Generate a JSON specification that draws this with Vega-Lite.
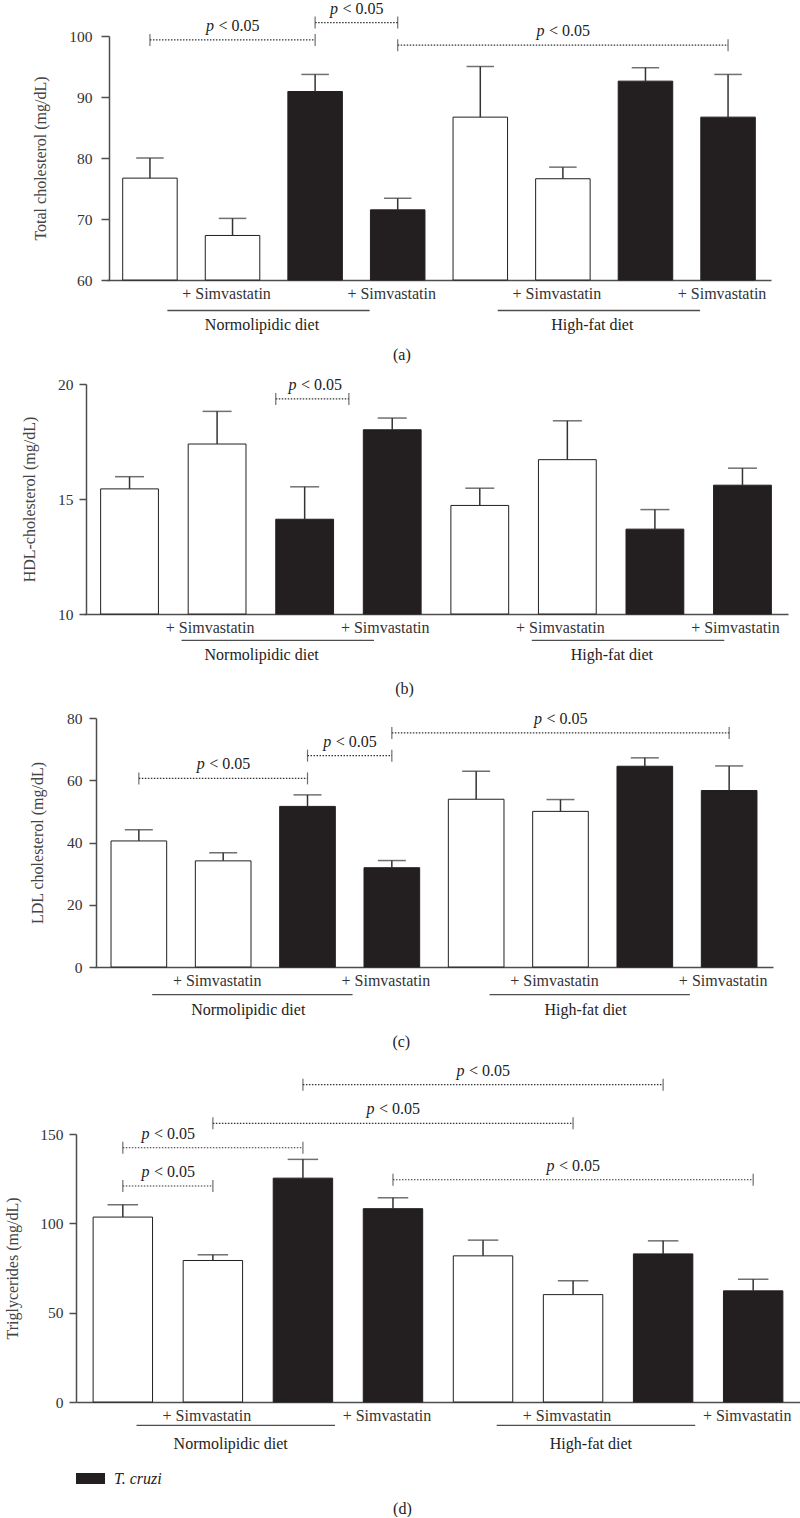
{
  "$schema": "https://vega.github.io/schema/vega-lite/v6.json",
  "padding": {"left": 4, "top": 0, "right": 0, "bottom": 0},
  "background": "white",
  "config": {
    "font": "Liberation Serif, Times New Roman, serif",
    "view": {"stroke": null},
    "axis": {"domainColor": "#4d4d4d", "domainWidth": 1.5, "tickColor": "#4d4d4d", "tickWidth": 1.5, "labelColor": "#333333", "labelFontSize": 15.5, "titleColor": "#444444", "titleFontSize": 16, "titleFontWeight": "normal", "grid": false, "labelFont": "Liberation Serif, Times New Roman, serif", "titleFont": "Liberation Serif, Times New Roman, serif"},
    "legend": {"labelFont": "Liberation Serif, Times New Roman, serif"},
    "title": {"fontSize": 16, "fontWeight": "normal", "color": "#222222", "font": "Liberation Serif, Times New Roman, serif"},
    "text": {"font": "Liberation Serif, Times New Roman, serif", "fontSize": 16, "color": "#222222"}
  },
  "datasets": {
    "bars": [
      {"panel": "a", "g": "NL", "group": "Uninfected", "mean": 76.7, "upper": 80.0},
      {"panel": "a", "g": "NL+S", "group": "Uninfected", "mean": 67.3, "upper": 70.1},
      {"panel": "a", "g": "NL-Tc", "group": "T. cruzi", "mean": 90.9, "upper": 93.7},
      {"panel": "a", "g": "NL-Tc+S", "group": "T. cruzi", "mean": 71.5, "upper": 73.4},
      {"panel": "a", "g": "HF", "group": "Uninfected", "mean": 86.7, "upper": 95.0},
      {"panel": "a", "g": "HF+S", "group": "Uninfected", "mean": 76.6, "upper": 78.5},
      {"panel": "a", "g": "HF-Tc", "group": "T. cruzi", "mean": 92.6, "upper": 94.8},
      {"panel": "a", "g": "HF-Tc+S", "group": "T. cruzi", "mean": 86.7, "upper": 93.7},
      {"panel": "b", "g": "NL", "group": "Uninfected", "mean": 15.44, "upper": 15.97},
      {"panel": "b", "g": "NL+S", "group": "Uninfected", "mean": 17.39, "upper": 18.81},
      {"panel": "b", "g": "NL-Tc", "group": "T. cruzi", "mean": 14.12, "upper": 15.53},
      {"panel": "b", "g": "NL-Tc+S", "group": "T. cruzi", "mean": 18.01, "upper": 18.52},
      {"panel": "b", "g": "HF", "group": "Uninfected", "mean": 14.72, "upper": 15.47},
      {"panel": "b", "g": "HF+S", "group": "Uninfected", "mean": 16.71, "upper": 18.40},
      {"panel": "b", "g": "HF-Tc", "group": "T. cruzi", "mean": 13.69, "upper": 14.54},
      {"panel": "b", "g": "HF-Tc+S", "group": "T. cruzi", "mean": 15.60, "upper": 16.34},
      {"panel": "c", "g": "NL", "group": "Uninfected", "mean": 40.5, "upper": 44.1},
      {"panel": "c", "g": "NL+S", "group": "Uninfected", "mean": 34.1, "upper": 36.7},
      {"panel": "c", "g": "NL-Tc", "group": "T. cruzi", "mean": 51.6, "upper": 55.3},
      {"panel": "c", "g": "NL-Tc+S", "group": "T. cruzi", "mean": 31.9, "upper": 34.2},
      {"panel": "c", "g": "HF", "group": "Uninfected", "mean": 53.9, "upper": 62.9},
      {"panel": "c", "g": "HF+S", "group": "Uninfected", "mean": 50.0, "upper": 53.8},
      {"panel": "c", "g": "HF-Tc", "group": "T. cruzi", "mean": 64.5, "upper": 67.2},
      {"panel": "c", "g": "HF-Tc+S", "group": "T. cruzi", "mean": 56.7, "upper": 64.6},
      {"panel": "d", "g": "NL", "group": "Uninfected", "mean": 103.5, "upper": 110.4},
      {"panel": "d", "g": "NL+S", "group": "Uninfected", "mean": 79.2, "upper": 82.4},
      {"panel": "d", "g": "NL-Tc", "group": "T. cruzi", "mean": 125.3, "upper": 135.8},
      {"panel": "d", "g": "NL-Tc+S", "group": "T. cruzi", "mean": 108.2, "upper": 114.3},
      {"panel": "d", "g": "HF", "group": "Uninfected", "mean": 81.8, "upper": 90.6},
      {"panel": "d", "g": "HF+S", "group": "Uninfected", "mean": 60.1, "upper": 67.8},
      {"panel": "d", "g": "HF-Tc", "group": "T. cruzi", "mean": 82.9, "upper": 90.2},
      {"panel": "d", "g": "HF-Tc+S", "group": "T. cruzi", "mean": 62.2, "upper": 68.7}
    ],
    "sig": [
      {"panel": "a", "from": "NL", "to": "NL-Tc", "level": 99.35, "at": "NL+S", "mid": "bar"},
      {"panel": "a", "from": "NL-Tc", "to": "NL-Tc+S", "level": 102.2, "at": "NL-Tc", "mid": "gap"},
      {"panel": "a", "from": "NL-Tc+S", "to": "HF-Tc+S", "level": 98.5, "at": "HF+S", "mid": "bar"},
      {"panel": "b", "from": "NL-Tc", "to": "NL-Tc+S", "level": 19.35, "at": "NL-Tc", "mid": "gap"},
      {"panel": "c", "from": "NL", "to": "NL-Tc", "level": 60.6, "at": "NL+S", "mid": "bar"},
      {"panel": "c", "from": "NL-Tc", "to": "NL-Tc+S", "level": 67.9, "at": "NL-Tc", "mid": "gap"},
      {"panel": "c", "from": "NL-Tc+S", "to": "HF-Tc+S", "level": 75.2, "at": "HF+S", "mid": "bar"},
      {"panel": "d", "from": "NL", "to": "NL+S", "level": 120.9, "at": "NL", "mid": "gap"},
      {"panel": "d", "from": "NL", "to": "NL-Tc", "level": 142.3, "at": "NL", "mid": "gap"},
      {"panel": "d", "from": "NL+S", "to": "HF+S", "level": 156.0, "at": "NL-Tc+S", "mid": "bar"},
      {"panel": "d", "from": "NL-Tc", "to": "HF-Tc", "level": 177.6, "at": "HF", "mid": "bar"},
      {"panel": "d", "from": "NL-Tc+S", "to": "HF-Tc+S", "level": 124.4, "at": "HF+S", "mid": "bar"}
    ],
    "groups": [
      {"diet": "Normolipidic diet", "from": "NL", "to": "NL-Tc", "at": "NL+S"},
      {"diet": "High-fat diet", "from": "HF", "to": "HF-Tc", "at": "HF+S"}
    ]
  },
  "concat": [
    {
      "width": 695, "height": 244,
      "title": {"text": "(a)", "orient": "bottom", "frame": "bounds", "anchor": "middle", "offset": 14},
      "layer": [
        {"data": {"name": "bars"}, "transform": [{"filter": "datum.panel === 'a'"}],
         "mark": {"type": "bar", "stroke": "#231f20", "strokeWidth": 1},
         "encoding": {
           "x": {"field": "g", "type": "nominal", "scale": {"type": "band", "domain": ["NL","NL+S","NL-Tc","NL-Tc+S","HF","HF+S","HF-Tc","HF-Tc+S"], "range": [31, 695], "paddingInner": 0.34, "paddingOuter": 0.19},
                 "axis": {"title": null, "ticks": false, "labelPadding": 5, "labelAngle": 0, "labelOverlap": false, "labelFontSize": 16, "labelOffset": -6, "labelExpr": "indexof(datum.value, '+S') >= 0 ? '+ Simvastatin' : ''"}},
           "y": {"field": "mean", "type": "quantitative", "scale": {"domain": [60, 100]}, "axis": {"title": "Total cholesterol (mg/dL)", "values": [60, 70, 80, 90, 100], "offset": -33, "tickSize": 8, "labelPadding": 9, "titlePadding": 20}},
           "y2": {"datum": 60},
           "fill": {"field": "group", "type": "nominal", "scale": {"domain": ["Uninfected", "T. cruzi"], "range": ["#ffffff", "#231f20"]}, "legend": null}
         }},
        {"data": {"name": "bars"}, "transform": [{"filter": "datum.panel === 'a'"}],
         "mark": {"type": "rule", "color": "#333333", "strokeWidth": 1.5},
         "encoding": {
           "x": {"field": "g", "type": "nominal", "title": null, "scale": {"type": "band", "domain": ["NL","NL+S","NL-Tc","NL-Tc+S","HF","HF+S","HF-Tc","HF-Tc+S"]}},
           "y": {"field": "mean", "type": "quantitative", "scale": {"domain": [60, 100]}},
           "y2": {"field": "upper"}
         }},
        {"data": {"name": "bars"}, "transform": [{"filter": "datum.panel === 'a'"}],
         "mark": {"type": "tick", "orient": "horizontal", "color": "#333333", "thickness": 1.5, "size": 27.5},
         "encoding": {
           "x": {"field": "g", "type": "nominal", "title": null, "scale": {"type": "band", "domain": ["NL","NL+S","NL-Tc","NL-Tc+S","HF","HF+S","HF-Tc","HF-Tc+S"]}},
           "y": {"field": "upper", "type": "quantitative", "scale": {"domain": [60, 100]}}
         }},
        {"data": {"name": "sig"}, "transform": [{"filter": "datum.panel === 'a'"}],
         "mark": {"type": "rule", "color": "#333333", "strokeWidth": 1.2, "strokeDash": [1.5, 1.5]},
         "encoding": {
           "x": {"field": "from", "type": "nominal", "title": null, "scale": {"type": "band", "domain": ["NL","NL+S","NL-Tc","NL-Tc+S","HF","HF+S","HF-Tc","HF-Tc+S"]}},
           "x2": {"field": "to"},
           "y": {"field": "level", "type": "quantitative", "scale": {"domain": [60, 100]}}
         }},
        {"data": {"name": "sig"}, "transform": [{"filter": "datum.panel === 'a'"}],
         "mark": {"type": "tick", "orient": "vertical", "color": "#333333", "thickness": 1.2, "size": 12},
         "encoding": {
           "x": {"field": "from", "type": "nominal", "title": null, "scale": {"type": "band", "domain": ["NL","NL+S","NL-Tc","NL-Tc+S","HF","HF+S","HF-Tc","HF-Tc+S"]}},
           "y": {"field": "level", "type": "quantitative", "scale": {"domain": [60, 100]}}
         }},
        {"data": {"name": "sig"}, "transform": [{"filter": "datum.panel === 'a'"}],
         "mark": {"type": "tick", "orient": "vertical", "color": "#333333", "thickness": 1.2, "size": 12},
         "encoding": {
           "x": {"field": "to", "type": "nominal", "title": null, "scale": {"type": "band", "domain": ["NL","NL+S","NL-Tc","NL-Tc+S","HF","HF+S","HF-Tc","HF-Tc+S"]}},
           "y": {"field": "level", "type": "quantitative", "scale": {"domain": [60, 100]}}
         }},
        {"data": {"name": "sig"}, "transform": [{"filter": "datum.panel === 'a' && datum.mid === 'bar'"}],
         "mark": {"type": "text", "text": "p", "fontStyle": "italic", "align": "left", "baseline": "alphabetic", "dx": -26.5, "dy": -9},
         "encoding": {
           "x": {"field": "at", "type": "nominal", "title": null, "scale": {"type": "band", "domain": ["NL","NL+S","NL-Tc","NL-Tc+S","HF","HF+S","HF-Tc","HF-Tc+S"]}},
           "y": {"field": "level", "type": "quantitative", "scale": {"domain": [60, 100]}}
         }},
        {"data": {"name": "sig"}, "transform": [{"filter": "datum.panel === 'a' && datum.mid === 'bar'"}],
         "mark": {"type": "text", "text": "< 0.05", "align": "left", "baseline": "alphabetic", "dx": -14, "dy": -9},
         "encoding": {
           "x": {"field": "at", "type": "nominal", "title": null, "scale": {"type": "band", "domain": ["NL","NL+S","NL-Tc","NL-Tc+S","HF","HF+S","HF-Tc","HF-Tc+S"]}},
           "y": {"field": "level", "type": "quantitative", "scale": {"domain": [60, 100]}}
         }},
        {"data": {"name": "sig"}, "transform": [{"filter": "datum.panel === 'a' && datum.mid === 'gap'"}],
         "mark": {"type": "text", "text": "p", "fontStyle": "italic", "align": "left", "baseline": "alphabetic", "dx": -26.5, "dy": -9},
         "encoding": {
           "x": {"field": "at", "type": "nominal", "title": null, "bandPosition": 1.26, "scale": {"type": "band", "domain": ["NL","NL+S","NL-Tc","NL-Tc+S","HF","HF+S","HF-Tc","HF-Tc+S"]}},
           "y": {"field": "level", "type": "quantitative", "scale": {"domain": [60, 100]}}
         }},
        {"data": {"name": "sig"}, "transform": [{"filter": "datum.panel === 'a' && datum.mid === 'gap'"}],
         "mark": {"type": "text", "text": "< 0.05", "align": "left", "baseline": "alphabetic", "dx": -14, "dy": -9},
         "encoding": {
           "x": {"field": "at", "type": "nominal", "title": null, "bandPosition": 1.26, "scale": {"type": "band", "domain": ["NL","NL+S","NL-Tc","NL-Tc+S","HF","HF+S","HF-Tc","HF-Tc+S"]}},
           "y": {"field": "level", "type": "quantitative", "scale": {"domain": [60, 100]}}
         }},
        {"data": {"name": "groups"},
         "mark": {"type": "rule", "color": "#4d4d4d", "strokeWidth": 1.3},
         "encoding": {
           "x": {"field": "from", "type": "nominal", "title": null, "bandPosition": 0.82, "scale": {"type": "band", "domain": ["NL","NL+S","NL-Tc","NL-Tc+S","HF","HF+S","HF-Tc","HF-Tc+S"]}},
           "x2": {"field": "to", "bandPosition": 1.5},
           "y": {"datum": 55.0, "scale": {"domain": [60, 100]}}
         }},
        {"data": {"name": "groups"},
         "mark": {"type": "text", "align": "center", "baseline": "alphabetic"},
         "encoding": {
           "x": {"field": "at", "type": "nominal", "title": null, "bandPosition": 1.04, "scale": {"type": "band", "domain": ["NL","NL+S","NL-Tc","NL-Tc+S","HF","HF+S","HF-Tc","HF-Tc+S"]}},
           "y": {"datum": 51.77, "scale": {"domain": [60, 100]}},
           "text": {"field": "diet"}
         }}
      ]
    },
    {
      "width": 712, "height": 230,
      "title": {"text": "(b)", "orient": "bottom", "frame": "bounds", "anchor": "middle", "offset": 18},
      "layer": [
        {"data": {"name": "bars"}, "transform": [{"filter": "datum.panel === 'b'"}],
         "mark": {"type": "bar", "stroke": "#231f20", "strokeWidth": 1},
         "encoding": {
           "x": {"field": "g", "type": "nominal", "scale": {"type": "band", "domain": ["NL","NL+S","NL-Tc","NL-Tc+S","HF","HF+S","HF-Tc","HF-Tc+S"], "range": [8, 712], "paddingInner": 0.34, "paddingOuter": 0.19},
                 "axis": {"title": null, "ticks": false, "labelPadding": 5, "labelAngle": 0, "labelOverlap": false, "labelFontSize": 16, "labelOffset": -7, "labelExpr": "indexof(datum.value, '+S') >= 0 ? '+ Simvastatin' : ''"}},
           "y": {"field": "mean", "type": "quantitative", "scale": {"domain": [10, 20]}, "axis": {"title": "HDL-cholesterol (mg/dL)", "values": [10, 15, 20], "offset": -10, "tickSize": 7, "labelPadding": 6, "titlePadding": 20.5}},
           "y2": {"datum": 10},
           "fill": {"field": "group", "type": "nominal", "scale": {"domain": ["Uninfected", "T. cruzi"], "range": ["#ffffff", "#231f20"]}, "legend": null}
         }},
        {"data": {"name": "bars"}, "transform": [{"filter": "datum.panel === 'b'"}],
         "mark": {"type": "rule", "color": "#333333", "strokeWidth": 1.5},
         "encoding": {
           "x": {"field": "g", "type": "nominal", "title": null, "scale": {"type": "band", "domain": ["NL","NL+S","NL-Tc","NL-Tc+S","HF","HF+S","HF-Tc","HF-Tc+S"]}},
           "y": {"field": "mean", "type": "quantitative", "scale": {"domain": [10, 20]}},
           "y2": {"field": "upper"}
         }},
        {"data": {"name": "bars"}, "transform": [{"filter": "datum.panel === 'b'"}],
         "mark": {"type": "tick", "orient": "horizontal", "color": "#333333", "thickness": 1.5, "size": 29},
         "encoding": {
           "x": {"field": "g", "type": "nominal", "title": null, "scale": {"type": "band", "domain": ["NL","NL+S","NL-Tc","NL-Tc+S","HF","HF+S","HF-Tc","HF-Tc+S"]}},
           "y": {"field": "upper", "type": "quantitative", "scale": {"domain": [10, 20]}}
         }},
        {"data": {"name": "sig"}, "transform": [{"filter": "datum.panel === 'b'"}],
         "mark": {"type": "rule", "color": "#333333", "strokeWidth": 1.2, "strokeDash": [1.5, 1.5]},
         "encoding": {
           "x": {"field": "from", "type": "nominal", "title": null, "bandPosition": 0, "scale": {"type": "band", "domain": ["NL","NL+S","NL-Tc","NL-Tc+S","HF","HF+S","HF-Tc","HF-Tc+S"]}},
           "x2": {"field": "to", "bandPosition": -0.25},
           "y": {"field": "level", "type": "quantitative", "scale": {"domain": [10, 20]}}
         }},
        {"data": {"name": "sig"}, "transform": [{"filter": "datum.panel === 'b'"}],
         "mark": {"type": "tick", "orient": "vertical", "color": "#333333", "thickness": 1.2, "size": 12},
         "encoding": {
           "x": {"field": "from", "type": "nominal", "title": null, "bandPosition": 0, "scale": {"type": "band", "domain": ["NL","NL+S","NL-Tc","NL-Tc+S","HF","HF+S","HF-Tc","HF-Tc+S"]}},
           "y": {"field": "level", "type": "quantitative", "scale": {"domain": [10, 20]}}
         }},
        {"data": {"name": "sig"}, "transform": [{"filter": "datum.panel === 'b'"}],
         "mark": {"type": "tick", "orient": "vertical", "color": "#333333", "thickness": 1.2, "size": 12},
         "encoding": {
           "x": {"field": "to", "type": "nominal", "title": null, "bandPosition": -0.25, "scale": {"type": "band", "domain": ["NL","NL+S","NL-Tc","NL-Tc+S","HF","HF+S","HF-Tc","HF-Tc+S"]}},
           "y": {"field": "level", "type": "quantitative", "scale": {"domain": [10, 20]}}
         }},
        {"data": {"name": "sig"}, "transform": [{"filter": "datum.panel === 'b'"}],
         "mark": {"type": "text", "text": "p", "fontStyle": "italic", "align": "left", "baseline": "alphabetic", "dx": -26.5, "dy": -9},
         "encoding": {
           "x": {"field": "at", "type": "nominal", "title": null, "bandPosition": 0.68, "scale": {"type": "band", "domain": ["NL","NL+S","NL-Tc","NL-Tc+S","HF","HF+S","HF-Tc","HF-Tc+S"]}},
           "y": {"field": "level", "type": "quantitative", "scale": {"domain": [10, 20]}}
         }},
        {"data": {"name": "sig"}, "transform": [{"filter": "datum.panel === 'b'"}],
         "mark": {"type": "text", "text": "< 0.05", "align": "left", "baseline": "alphabetic", "dx": -14, "dy": -9},
         "encoding": {
           "x": {"field": "at", "type": "nominal", "title": null, "bandPosition": 0.68, "scale": {"type": "band", "domain": ["NL","NL+S","NL-Tc","NL-Tc+S","HF","HF+S","HF-Tc","HF-Tc+S"]}},
           "y": {"field": "level", "type": "quantitative", "scale": {"domain": [10, 20]}}
         }},
        {"data": {"name": "groups"},
         "mark": {"type": "rule", "color": "#4d4d4d", "strokeWidth": 1.3},
         "encoding": {
           "x": {"field": "from", "type": "nominal", "title": null, "bandPosition": 1.4, "scale": {"type": "band", "domain": ["NL","NL+S","NL-Tc","NL-Tc+S","HF","HF+S","HF-Tc","HF-Tc+S"]}},
           "x2": {"field": "to", "bandPosition": 1.7},
           "y": {"datum": 8.854, "scale": {"domain": [10, 20]}}
         }},
        {"data": {"name": "groups"},
         "mark": {"type": "text", "align": "center", "baseline": "alphabetic"},
         "encoding": {
           "x": {"field": "at", "type": "nominal", "title": null, "bandPosition": 1.27, "scale": {"type": "band", "domain": ["NL","NL+S","NL-Tc","NL-Tc+S","HF","HF+S","HF-Tc","HF-Tc+S"]}},
           "y": {"datum": 7.985, "scale": {"domain": [10, 20]}},
           "text": {"field": "diet"}
         }}
      ]
    },
    {
      "width": 697, "height": 249,
      "title": {"text": "(c)", "orient": "bottom", "frame": "bounds", "anchor": "middle", "offset": 16},
      "layer": [
        {"data": {"name": "bars"}, "transform": [{"filter": "datum.panel === 'c'"}],
         "mark": {"type": "bar", "stroke": "#231f20", "strokeWidth": 1},
         "encoding": {
           "x": {"field": "g", "type": "nominal", "scale": {"type": "band", "domain": ["NL","NL+S","NL-Tc","NL-Tc+S","HF","HF+S","HF-Tc","HF-Tc+S"], "range": [19, 697], "paddingInner": 0.34, "paddingOuter": 0.19},
                 "axis": {"title": null, "ticks": false, "labelPadding": 5, "labelAngle": 0, "labelOverlap": false, "labelFontSize": 16, "labelOffset": -6, "labelExpr": "indexof(datum.value, '+S') >= 0 ? '+ Simvastatin' : ''"}},
           "y": {"field": "mean", "type": "quantitative", "scale": {"domain": [0, 80]}, "axis": {"title": "LDL cholesterol (mg/dL)", "values": [0, 20, 40, 60, 80], "offset": -20, "tickSize": 7, "labelPadding": 7, "titlePadding": 21}},
           "y2": {"datum": 0},
           "fill": {"field": "group", "type": "nominal", "scale": {"domain": ["Uninfected", "T. cruzi"], "range": ["#ffffff", "#231f20"]}, "legend": null}
         }},
        {"data": {"name": "bars"}, "transform": [{"filter": "datum.panel === 'c'"}],
         "mark": {"type": "rule", "color": "#333333", "strokeWidth": 1.5},
         "encoding": {
           "x": {"field": "g", "type": "nominal", "title": null, "scale": {"type": "band", "domain": ["NL","NL+S","NL-Tc","NL-Tc+S","HF","HF+S","HF-Tc","HF-Tc+S"]}},
           "y": {"field": "mean", "type": "quantitative", "scale": {"domain": [0, 80]}},
           "y2": {"field": "upper"}
         }},
        {"data": {"name": "bars"}, "transform": [{"filter": "datum.panel === 'c'"}],
         "mark": {"type": "tick", "orient": "horizontal", "color": "#333333", "thickness": 1.5, "size": 28},
         "encoding": {
           "x": {"field": "g", "type": "nominal", "title": null, "scale": {"type": "band", "domain": ["NL","NL+S","NL-Tc","NL-Tc+S","HF","HF+S","HF-Tc","HF-Tc+S"]}},
           "y": {"field": "upper", "type": "quantitative", "scale": {"domain": [0, 80]}}
         }},
        {"data": {"name": "sig"}, "transform": [{"filter": "datum.panel === 'c'"}],
         "mark": {"type": "rule", "color": "#333333", "strokeWidth": 1.2, "strokeDash": [1.5, 1.5]},
         "encoding": {
           "x": {"field": "from", "type": "nominal", "title": null, "scale": {"type": "band", "domain": ["NL","NL+S","NL-Tc","NL-Tc+S","HF","HF+S","HF-Tc","HF-Tc+S"]}},
           "x2": {"field": "to"},
           "y": {"field": "level", "type": "quantitative", "scale": {"domain": [0, 80]}}
         }},
        {"data": {"name": "sig"}, "transform": [{"filter": "datum.panel === 'c'"}],
         "mark": {"type": "tick", "orient": "vertical", "color": "#333333", "thickness": 1.2, "size": 12},
         "encoding": {
           "x": {"field": "from", "type": "nominal", "title": null, "scale": {"type": "band", "domain": ["NL","NL+S","NL-Tc","NL-Tc+S","HF","HF+S","HF-Tc","HF-Tc+S"]}},
           "y": {"field": "level", "type": "quantitative", "scale": {"domain": [0, 80]}}
         }},
        {"data": {"name": "sig"}, "transform": [{"filter": "datum.panel === 'c'"}],
         "mark": {"type": "tick", "orient": "vertical", "color": "#333333", "thickness": 1.2, "size": 12},
         "encoding": {
           "x": {"field": "to", "type": "nominal", "title": null, "scale": {"type": "band", "domain": ["NL","NL+S","NL-Tc","NL-Tc+S","HF","HF+S","HF-Tc","HF-Tc+S"]}},
           "y": {"field": "level", "type": "quantitative", "scale": {"domain": [0, 80]}}
         }},
        {"data": {"name": "sig"}, "transform": [{"filter": "datum.panel === 'c' && datum.mid === 'bar'"}],
         "mark": {"type": "text", "text": "p", "fontStyle": "italic", "align": "left", "baseline": "alphabetic", "dx": -26.5, "dy": -9},
         "encoding": {
           "x": {"field": "at", "type": "nominal", "title": null, "scale": {"type": "band", "domain": ["NL","NL+S","NL-Tc","NL-Tc+S","HF","HF+S","HF-Tc","HF-Tc+S"]}},
           "y": {"field": "level", "type": "quantitative", "scale": {"domain": [0, 80]}}
         }},
        {"data": {"name": "sig"}, "transform": [{"filter": "datum.panel === 'c' && datum.mid === 'bar'"}],
         "mark": {"type": "text", "text": "< 0.05", "align": "left", "baseline": "alphabetic", "dx": -14, "dy": -9},
         "encoding": {
           "x": {"field": "at", "type": "nominal", "title": null, "scale": {"type": "band", "domain": ["NL","NL+S","NL-Tc","NL-Tc+S","HF","HF+S","HF-Tc","HF-Tc+S"]}},
           "y": {"field": "level", "type": "quantitative", "scale": {"domain": [0, 80]}}
         }},
        {"data": {"name": "sig"}, "transform": [{"filter": "datum.panel === 'c' && datum.mid === 'gap'"}],
         "mark": {"type": "text", "text": "p", "fontStyle": "italic", "align": "left", "baseline": "alphabetic", "dx": -26.5, "dy": -9},
         "encoding": {
           "x": {"field": "at", "type": "nominal", "title": null, "bandPosition": 1.26, "scale": {"type": "band", "domain": ["NL","NL+S","NL-Tc","NL-Tc+S","HF","HF+S","HF-Tc","HF-Tc+S"]}},
           "y": {"field": "level", "type": "quantitative", "scale": {"domain": [0, 80]}}
         }},
        {"data": {"name": "sig"}, "transform": [{"filter": "datum.panel === 'c' && datum.mid === 'gap'"}],
         "mark": {"type": "text", "text": "< 0.05", "align": "left", "baseline": "alphabetic", "dx": -14, "dy": -9},
         "encoding": {
           "x": {"field": "at", "type": "nominal", "title": null, "bandPosition": 1.26, "scale": {"type": "band", "domain": ["NL","NL+S","NL-Tc","NL-Tc+S","HF","HF+S","HF-Tc","HF-Tc+S"]}},
           "y": {"field": "level", "type": "quantitative", "scale": {"domain": [0, 80]}}
         }},
        {"data": {"name": "groups"},
         "mark": {"type": "rule", "color": "#4d4d4d", "strokeWidth": 1.3},
         "encoding": {
           "x": {"field": "from", "type": "nominal", "title": null, "bandPosition": 0.74, "scale": {"type": "band", "domain": ["NL","NL+S","NL-Tc","NL-Tc+S","HF","HF+S","HF-Tc","HF-Tc+S"]}},
           "x2": {"field": "to", "bandPosition": 1.31},
           "y": {"datum": -8.9, "scale": {"domain": [0, 80]}}
         }},
        {"data": {"name": "groups"},
         "mark": {"type": "text", "align": "center", "baseline": "alphabetic"},
         "encoding": {
           "x": {"field": "at", "type": "nominal", "title": null, "bandPosition": 0.95, "scale": {"type": "band", "domain": ["NL","NL+S","NL-Tc","NL-Tc+S","HF","HF+S","HF-Tc","HF-Tc+S"]}},
           "y": {"datum": -15.33, "scale": {"domain": [0, 80]}},
           "text": {"field": "diet"}
         }}
      ]
    },
    {
      "width": 724, "height": 268,
      "title": {"text": "(d)", "orient": "bottom", "frame": "bounds", "anchor": "middle", "offset": 14},
      "layer": [
        {"data": {"name": "bars"}, "transform": [{"filter": "datum.panel === 'd'"}],
         "mark": {"type": "bar", "stroke": "#231f20", "strokeWidth": 1},
         "encoding": {
           "x": {"field": "g", "type": "nominal", "scale": {"type": "band", "domain": ["NL","NL+S","NL-Tc","NL-Tc+S","HF","HF+S","HF-Tc","HF-Tc+S"], "range": [0, 724], "paddingInner": 0.34, "paddingOuter": 0.19},
                 "axis": {"title": null, "ticks": false, "labelPadding": 5, "labelAngle": 0, "labelOverlap": false, "labelFontSize": 16, "labelOffset": -6, "labelExpr": "indexof(datum.value, '+S') >= 0 ? '+ Simvastatin' : ''"}},
           "y": {"field": "mean", "type": "quantitative", "scale": {"domain": [0, 150]}, "axis": {"title": "Triglycerides (mg/dL)", "values": [0, 50, 100, 150], "tickSize": 7, "labelPadding": 6, "titlePadding": 19}},
           "y2": {"datum": 0},
           "fill": {"field": "group", "type": "nominal", "scale": {"domain": ["Uninfected", "T. cruzi"], "range": ["#ffffff", "#231f20"]},
                    "legend": {"values": ["T. cruzi"], "orient": "bottom", "title": null, "symbolType": "M-1,-0.38H1V0.38H-1Z", "symbolSize": 841, "symbolStrokeWidth": 0, "labelFontStyle": "italic", "labelFontSize": 16, "labelColor": "#222222", "labelOffset": 9, "offset": 41}}
         }},
        {"data": {"name": "bars"}, "transform": [{"filter": "datum.panel === 'd'"}],
         "mark": {"type": "rule", "color": "#333333", "strokeWidth": 1.5},
         "encoding": {
           "x": {"field": "g", "type": "nominal", "title": null, "scale": {"type": "band", "domain": ["NL","NL+S","NL-Tc","NL-Tc+S","HF","HF+S","HF-Tc","HF-Tc+S"]}},
           "y": {"field": "mean", "type": "quantitative", "scale": {"domain": [0, 150]}},
           "y2": {"field": "upper"}
         }},
        {"data": {"name": "bars"}, "transform": [{"filter": "datum.panel === 'd'"}],
         "mark": {"type": "tick", "orient": "horizontal", "color": "#333333", "thickness": 1.5, "size": 30.5},
         "encoding": {
           "x": {"field": "g", "type": "nominal", "title": null, "scale": {"type": "band", "domain": ["NL","NL+S","NL-Tc","NL-Tc+S","HF","HF+S","HF-Tc","HF-Tc+S"]}},
           "y": {"field": "upper", "type": "quantitative", "scale": {"domain": [0, 150]}}
         }},
        {"data": {"name": "sig"}, "transform": [{"filter": "datum.panel === 'd'"}],
         "mark": {"type": "rule", "color": "#333333", "strokeWidth": 1.2, "strokeDash": [1.5, 1.5]},
         "encoding": {
           "x": {"field": "from", "type": "nominal", "title": null, "scale": {"type": "band", "domain": ["NL","NL+S","NL-Tc","NL-Tc+S","HF","HF+S","HF-Tc","HF-Tc+S"]}},
           "x2": {"field": "to"},
           "y": {"field": "level", "type": "quantitative", "scale": {"domain": [0, 150]}}
         }},
        {"data": {"name": "sig"}, "transform": [{"filter": "datum.panel === 'd'"}],
         "mark": {"type": "tick", "orient": "vertical", "color": "#333333", "thickness": 1.2, "size": 12},
         "encoding": {
           "x": {"field": "from", "type": "nominal", "title": null, "scale": {"type": "band", "domain": ["NL","NL+S","NL-Tc","NL-Tc+S","HF","HF+S","HF-Tc","HF-Tc+S"]}},
           "y": {"field": "level", "type": "quantitative", "scale": {"domain": [0, 150]}}
         }},
        {"data": {"name": "sig"}, "transform": [{"filter": "datum.panel === 'd'"}],
         "mark": {"type": "tick", "orient": "vertical", "color": "#333333", "thickness": 1.2, "size": 12},
         "encoding": {
           "x": {"field": "to", "type": "nominal", "title": null, "scale": {"type": "band", "domain": ["NL","NL+S","NL-Tc","NL-Tc+S","HF","HF+S","HF-Tc","HF-Tc+S"]}},
           "y": {"field": "level", "type": "quantitative", "scale": {"domain": [0, 150]}}
         }},
        {"data": {"name": "sig"}, "transform": [{"filter": "datum.panel === 'd' && datum.mid === 'bar'"}],
         "mark": {"type": "text", "text": "p", "fontStyle": "italic", "align": "left", "baseline": "alphabetic", "dx": -26.5, "dy": -9},
         "encoding": {
           "x": {"field": "at", "type": "nominal", "title": null, "scale": {"type": "band", "domain": ["NL","NL+S","NL-Tc","NL-Tc+S","HF","HF+S","HF-Tc","HF-Tc+S"]}},
           "y": {"field": "level", "type": "quantitative", "scale": {"domain": [0, 150]}}
         }},
        {"data": {"name": "sig"}, "transform": [{"filter": "datum.panel === 'd' && datum.mid === 'bar'"}],
         "mark": {"type": "text", "text": "< 0.05", "align": "left", "baseline": "alphabetic", "dx": -14, "dy": -9},
         "encoding": {
           "x": {"field": "at", "type": "nominal", "title": null, "scale": {"type": "band", "domain": ["NL","NL+S","NL-Tc","NL-Tc+S","HF","HF+S","HF-Tc","HF-Tc+S"]}},
           "y": {"field": "level", "type": "quantitative", "scale": {"domain": [0, 150]}}
         }},
        {"data": {"name": "sig"}, "transform": [{"filter": "datum.panel === 'd' && datum.mid === 'gap'"}],
         "mark": {"type": "text", "text": "p", "fontStyle": "italic", "align": "left", "baseline": "alphabetic", "dx": -26.5, "dy": -9},
         "encoding": {
           "x": {"field": "at", "type": "nominal", "title": null, "bandPosition": 1.26, "scale": {"type": "band", "domain": ["NL","NL+S","NL-Tc","NL-Tc+S","HF","HF+S","HF-Tc","HF-Tc+S"]}},
           "y": {"field": "level", "type": "quantitative", "scale": {"domain": [0, 150]}}
         }},
        {"data": {"name": "sig"}, "transform": [{"filter": "datum.panel === 'd' && datum.mid === 'gap'"}],
         "mark": {"type": "text", "text": "< 0.05", "align": "left", "baseline": "alphabetic", "dx": -14, "dy": -9},
         "encoding": {
           "x": {"field": "at", "type": "nominal", "title": null, "bandPosition": 1.26, "scale": {"type": "band", "domain": ["NL","NL+S","NL-Tc","NL-Tc+S","HF","HF+S","HF-Tc","HF-Tc+S"]}},
           "y": {"field": "level", "type": "quantitative", "scale": {"domain": [0, 150]}}
         }},
        {"data": {"name": "groups"},
         "mark": {"type": "rule", "color": "#4d4d4d", "strokeWidth": 1.3},
         "encoding": {
           "x": {"field": "from", "type": "nominal", "title": null, "bandPosition": 0.73, "scale": {"type": "band", "domain": ["NL","NL+S","NL-Tc","NL-Tc+S","HF","HF+S","HF-Tc","HF-Tc+S"]}},
           "x2": {"field": "to", "bandPosition": 1.04},
           "y": {"datum": -13.05, "scale": {"domain": [0, 150]}}
         }},
        {"data": {"name": "groups"},
         "mark": {"type": "text", "align": "center", "baseline": "alphabetic"},
         "encoding": {
           "x": {"field": "at", "type": "nominal", "title": null, "bandPosition": 0.8, "scale": {"type": "band", "domain": ["NL","NL+S","NL-Tc","NL-Tc+S","HF","HF+S","HF-Tc","HF-Tc+S"]}},
           "y": {"datum": -26.5, "scale": {"domain": [0, 150]}},
           "text": {"field": "diet"}
         }}
      ]
    }
  ],
  "columns": 1,
  "align": "none",
  "spacing": 12,
  "resolve": {"scale": {"x": "independent", "y": "independent", "fill": "independent"}, "legend": {"fill": "independent"}}
}
